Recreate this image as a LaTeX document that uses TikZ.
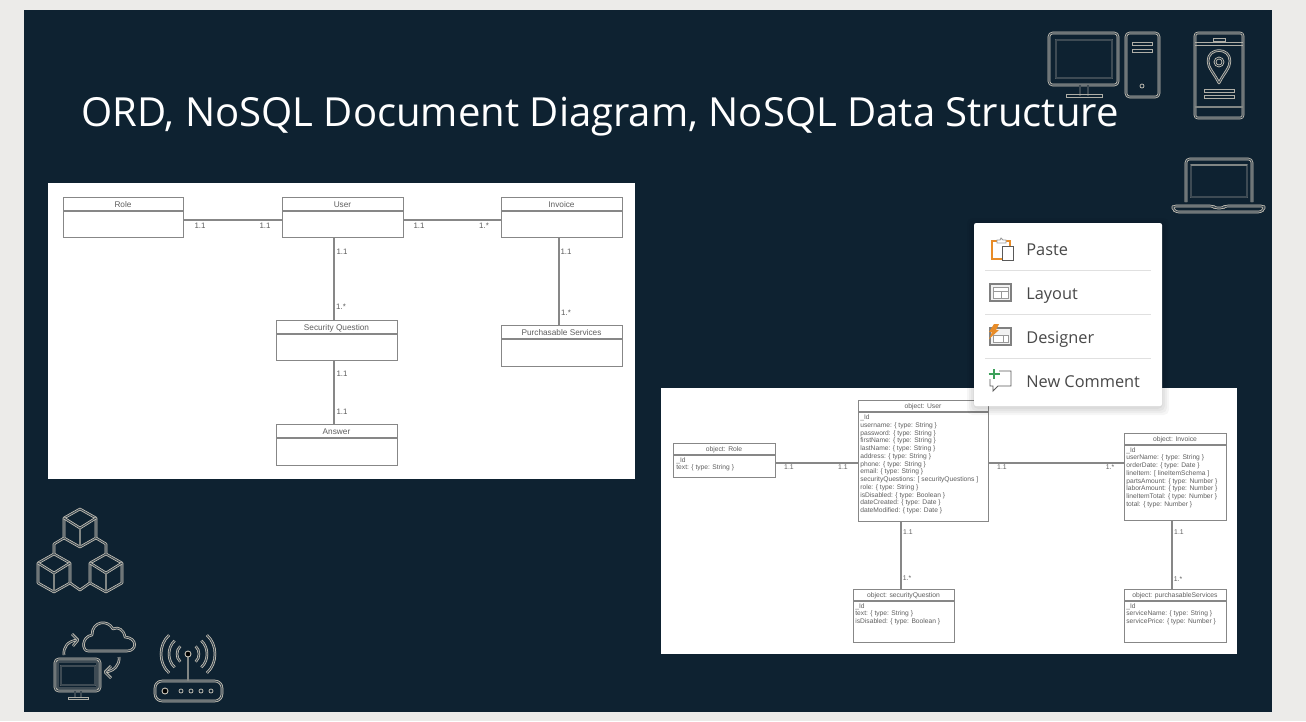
\documentclass[tikz,border=0pt]{standalone}
\usepackage{fontspec}
\setmainfont{Liberation Sans}
\newfontfamily\titlefont{Open Sans}
\usetikzlibrary{positioning,calc}
\definecolor{slidebg}{RGB}{14,34,49}
\definecolor{pagebg}{RGB}{236,235,233}
\definecolor{iconc}{RGB}{205,200,188}
\definecolor{umlc}{RGB}{135,135,135}
\definecolor{umltxt}{RGB}{95,95,95}
\definecolor{menutxt}{RGB}{72,72,72}
\definecolor{menuorange}{RGB}{232,140,40}
\definecolor{menugreen}{RGB}{60,160,90}
\tikzset{
  ico/.style={draw=iconc,line width=0.42pt,double=slidebg!75!iconc,double distance=0.6pt,line join=round},
  icothin/.style={draw=iconc!85!slidebg,line width=0.45pt},
  icobar/.style={draw=iconc!60!slidebg,line width=1.5pt},
  umlbox/.style={draw=umlc,line width=0.7pt,fill=white,inner sep=0pt,anchor=north west},
  umlline/.style={draw=umlc,line width=0.7pt},
  mult/.style={font=\fontsize{4.5}{5}\selectfont,text=umltxt,inner sep=0pt},
  multb/.style={font=\fontsize{3.9}{4.5}\selectfont,text=umltxt,inner sep=0pt},
  hdr/.style={font=\fontsize{4.7}{5}\selectfont,text=umltxt,inner sep=0pt},
  hdrb/.style={font=\fontsize{3.85}{4.4}\selectfont,text=umltxt,inner sep=0pt},
  attrs/.style={font=\fontsize{3.8}{4.41}\selectfont,text=umltxt,inner sep=0pt,anchor=north west,align=left},
  menuitem/.style={font=\titlefont\fontsize{9.3}{11}\selectfont,text=menutxt,inner sep=0pt,anchor=base west},
  menusep/.style={draw=black!12,line width=0.5pt},
}
% #1 name, #2 x, #3 y, #4 w, #5 h, #6 header height, #7 title, #8 title style
\newcommand{\umlcls}[8]{%
  \node[umlbox,minimum width=#4*0.02cm,minimum height=#5*0.02cm] (#1) at (#2,#3) {};%
  \draw[umlline] (#2,#3+#6) -- (#2+#4,#3+#6);%
  \node[#8] (#1title) at (#2+#4/2,#3+#6/2+1) {#7};}
\begin{document}
\begin{tikzpicture}[x=0.02cm,y=-0.02cm]
  \useasboundingbox (0,0) rectangle (1306,721);
  \fill[pagebg] (0,0) rectangle (1306,721);
  \fill[slidebg] (24,10) rectangle (1272,712);
  % --- title ---
  \node[font=\titlefont\fontsize{22.8}{28}\selectfont,text=white,inner sep=0pt,anchor=base west] (title) at (81,126)
    {ORD, NoSQL Document Diagram, NoSQL Data Structure};
  % --- left picture (ORD) ---
  \fill[white] (48,183) rectangle (635,479);
  \umlcls{role}{63}{197}{120}{40}{14}{Role}{hdr}
  \umlcls{user}{282}{197}{121}{40}{14}{User}{hdr}
  \umlcls{invoice}{501}{197}{121}{40}{14}{Invoice}{hdr}
  \umlcls{secq}{276}{320}{121}{40}{14}{Security Question}{hdr}
  \umlcls{answer}{276}{424}{121}{41}{14}{Answer}{hdr}
  \umlcls{purch}{501}{325}{121}{41}{14}{Purchasable Services}{hdr}
  \draw[umlline] (role.east |- 0,220) -- (user.west |- 0,220);
  \draw[umlline] (user.east |- 0,220) -- (invoice.west |- 0,220);
  \draw[umlline] (user.south -| 334,0) -- (secq.north -| 334,0);
  \draw[umlline] (secq.south -| 334,0) -- (answer.north -| 334,0);
  \draw[umlline] (invoice.south -| 559,0) -- (purch.north -| 559,0);
  \foreach \nm/\mx/\my/\lab in {a/200/226/1.1, b/265/226/1.1, c/419/226/1.1, d/484/226/1.*,
        e/342/252/1.1, f/341/307/1.*, g/342/374/1.1, h/342/412/1.1, i/566/252/1.1, j/566/313/1.*}{%
    \node[mult] (m\nm) at (\mx,\my) {\lab};}
  % --- right picture (document diagram) ---
  \fill[white] (661,388) rectangle (1237,654);
  \umlcls{orole}{673}{443}{102}{34}{12}{object: Role}{hdrb}
  \umlcls{ouser}{858}{400}{130}{121}{12}{object: User}{hdrb}
  \umlcls{osecq}{853}{589}{101}{53}{12}{object: securityQuestion}{hdrb}
  \umlcls{oinvoice}{1124}{433}{102}{87}{12}{object: Invoice}{hdrb}
  \umlcls{opurch}{1124}{589}{102}{53}{12}{object: purchasableServices}{hdrb}
  \draw[umlline] (orole.east |- 0,463) -- (ouser.west |- 0,463);
  \draw[umlline] (ouser.east |- 0,463) -- (oinvoice.west |- 0,463);
  \draw[umlline] (ouser.south -| 901,0) -- (osecq.north -| 901,0);
  \draw[umlline] (oinvoice.south -| 1172,0) -- (opurch.north -| 1172,0);
  \foreach \nm/\mx/\my/\lab in {a/789/467/1.1, b/843/467/1.1, c/1002/467/1.1, d/1110/467/1.*,
        e/908/532/1.1, f/907/578/1.*, g/1179/532/1.1, h/1178/579/1.*}{%
    \node[multb] (n\nm) at (\mx,\my) {\lab};}
  \node[attrs] (oroleattrs) at (676,457) {\_Id\\text: \{ type: String \}};
  \node[attrs] (ouserattrs) at (860,414.5) {\_Id\\username: \{ type: String \}\\password: \{ type: String \}\\firstName: \{ type: String \}\\lastName: \{ type: String \}\\address: \{ type: String \}\\phone: \{ type: String \}\\email: \{ type: String \}\\securityQuestions: [ securityQuestions ]\\role: \{ type: String \}\\isDisabled: \{ type: Boolean \}\\dateCreated: \{ type: Date \}\\dateModified: \{ type: Date \}};
  \node[attrs] (osecqattrs) at (855,603) {\_Id\\text: \{ type: String \}\\isDisabled: \{ type: Boolean \}};
  \node[attrs] (oinvoiceattrs) at (1126,447) {\_Id\\userName: \{ type: String \}\\orderDate: \{ type: Date  \}\\lineItem: [ lineItemSchema ]\\partsAmount: \{ type: Number \}\\laborAmount: \{ type: Number \}\\lineItemTotal: \{ type: Number \}\\total: \{ type: Number \}};
  \node[attrs] (opurchattrs) at (1126,603) {\_Id\\serviceName: \{ type: String \}\\servicePrice: \{ type: Number \}};
  % --- context menu ---
  \foreach \s in {7,5,3,1}{%
    \fill[black,opacity=0.035,rounded corners=3pt] (974-\s,223-\s+2) rectangle (1162+\s,406+\s+2);}
  \fill[white,rounded corners=1.2pt] (974,223) rectangle (1162,406);
  \foreach \sy in {270.5,314.5,358.5}{\draw[menusep] (985,\sy) -- (1151,\sy);}
  \node[menuitem] (paste) at (1026,255.7) {Paste};
  \node[menuitem] (layout) at (1026,299.5) {Layout};
  \node[menuitem] (designer) at (1026,343.5) {Designer};
  \node[menuitem] (comment) at (1026,387.7) {New Comment};
  % paste
  \draw[menuorange,line width=0.8pt] (1002,259) -- (992,259) -- (992,241) -- (1010,241) -- (1010,246);
  \draw[black!40,fill=white,line width=0.5pt] (997,243) -- (997,240) -- (1000,240) -- (1001,238) -- (1003,240) -- (1006,240) -- (1006,243) -- cycle;
  \draw[black!65,fill=white,line width=0.5pt] (1002,246) rectangle (1013,260);
  % layout
  \draw[black!50,line width=0.7pt,fill=black!5] (990,284) rectangle (1011,301);
  \draw[black!40,line width=0.5pt,fill=white] (993,287) rectangle (1008,298);
  \draw[black!40,line width=0.5pt] (993,291) -- (1008,291) (1001,291) -- (1001,298);
  % designer
  \draw[black!50,line width=0.7pt,fill=black!5] (990,328) rectangle (1011,345);
  \draw[black!40,line width=0.5pt,fill=white] (993,335) rectangle (1008,342);
  \draw[black!40,line width=0.5pt] (1003,335) -- (1003,342);
  \fill[menuorange] (994,324) -- (999,324) -- (996,330) -- (999,330) -- (989,339) -- (992,332) -- (989,332) -- cycle;
  % new comment
  \draw[black!65,line width=0.5pt] (999,371) -- (1011,371) -- (1011,386) -- (998,386) -- (993,391) -- (993,386) -- (990,386) -- (990,379);
  \draw[menugreen,line width=0.7pt] (988.5,374) -- (999.5,374) (994,369) -- (994,379);
  % --- icon: desktop and tower ---
  \draw[ico,rounded corners=2pt] (1049,33) rectangle (1118,85);
  \draw[ico] (1056,40) rectangle (1112,78);
  \draw[ico] (1080,85) -- (1080,96) (1088,85) -- (1088,96);
  \draw[icothin] (1066,94.5) rectangle (1102,97.5);
  \draw[ico,rounded corners=2pt] (1126,33) rectangle (1159,97);
  \draw[icothin] (1132,42) rectangle (1152,45) (1132,49.5) rectangle (1152,52.5);
  \draw[iconc,line width=0.4pt] (1142,86) circle (2);
  % --- icon: phone ---
  \draw[ico,rounded corners=1.5pt] (1195,33) rectangle (1243,118);
  \draw[icothin] (1195,42.5) -- (1243,42.5) (1195,45) -- (1243,45);
  \draw[icobar] (1195,107) -- (1243,107);
  \draw[icothin] (1213,38) rectangle (1225,41);
  \draw[ico] (1219,83) .. controls (1214,73) and (1208,68) .. (1208,61) .. controls (1208,47) and (1230,47) .. (1230,61) .. controls (1230,68) and (1224,73) .. (1219,83) -- cycle;
  \draw[iconc,line width=0.4pt] (1219,62) circle (5) (1219,62) circle (3);
  \draw[icothin] (1204,89) rectangle (1234,92) (1204,95) rectangle (1234,98);
  % --- icon: laptop ---
  \draw[ico,rounded corners=2pt] (1186,202) -- (1186,159) -- (1252,159) -- (1252,202);
  \draw[ico] (1191,165) rectangle (1247,197);
  \draw[icobar] (1191,165) -- (1247,165);
  \draw[ico,rounded corners=1.5pt] (1173,206) -- (1213,206) -- (1215,208) -- (1223,208) -- (1225,206) -- (1264,206) -- (1264,209) -- (1261,212) -- (1176,212) -- (1173,209) -- cycle;
  % --- icon: blocks ---
  \foreach \cx/\cy in {80/528,54/573,106/573}{%
    \draw[ico] (\cx,\cy-19) -- (\cx+16,\cy-10) -- (\cx+16,\cy+10) -- (\cx,\cy+19) -- (\cx-16,\cy+10) -- (\cx-16,\cy-10) -- cycle;
    \draw[ico] (\cx-16,\cy-10) -- (\cx,\cy) -- (\cx+16,\cy-10);
    \draw[icobar] (\cx,\cy) -- (\cx,\cy+18);}
  \draw[ico] (64,538) -- (54,544) -- (54,554);
  \draw[ico] (96,538) -- (106,544) -- (106,554);
  \draw[ico] (70,583) -- (80,590) -- (90,583);
  % --- icon: cloud and monitor ---
  \draw[ico] (88,651) -- (127,651) .. controls (137,651) and (138,638) .. (125,637) .. controls (124,630) and (118,626) .. (113,629) .. controls (108,619) and (92,621) .. (92,635) .. controls (81,637) and (82,651) .. (88,651) -- cycle;
  \draw[ico] (64,655) .. controls (63,647) and (68,641) .. (77,640);
  \draw[ico] (72,634) -- (78,640) -- (73,646);
  \draw[ico] (119,657) .. controls (120,665) and (114,671) .. (106,672);
  \draw[ico] (111,666) -- (105,672) -- (111,678);
  \draw[ico,rounded corners=2pt] (55,659) rectangle (100,691);
  \draw[ico] (58,662) rectangle (97,688);
  \draw[ico] (61,666) rectangle (95,685);
  \draw[ico] (75,691) -- (75,697) (81,691) -- (81,697);
  \draw[icothin] (68,697) rectangle (88,699.5);
  % --- icon: router ---
  \draw[ico,rounded corners=4pt] (155,681) rectangle (222,701);
  \draw[icobar,line width=1pt] (188,657) -- (188,681);
  \draw[iconc,line width=0.5pt,fill=black] (188,654) circle (3);
  \draw[iconc,line width=0.5pt,fill=black] (165,691) circle (3);
  \foreach \dx in {181,191,201,211}{\draw[iconc,line width=0.4pt] (\dx,691) circle (2);}
  \foreach \r in {11,19,27}{%
    \draw[ico] ({188-\r*.7},{654-\r*.7}) .. controls ({188-\r*1.1},{654-\r*.35}) and ({188-\r*1.1},{654+\r*.35}) .. ({188-\r*.7},{654+\r*.7});
    \draw[ico] ({188+\r*.7},{654-\r*.7}) .. controls ({188+\r*1.1},{654-\r*.35}) and ({188+\r*1.1},{654+\r*.35}) .. ({188+\r*.7},{654+\r*.7});}
\end{tikzpicture}
\end{document}
